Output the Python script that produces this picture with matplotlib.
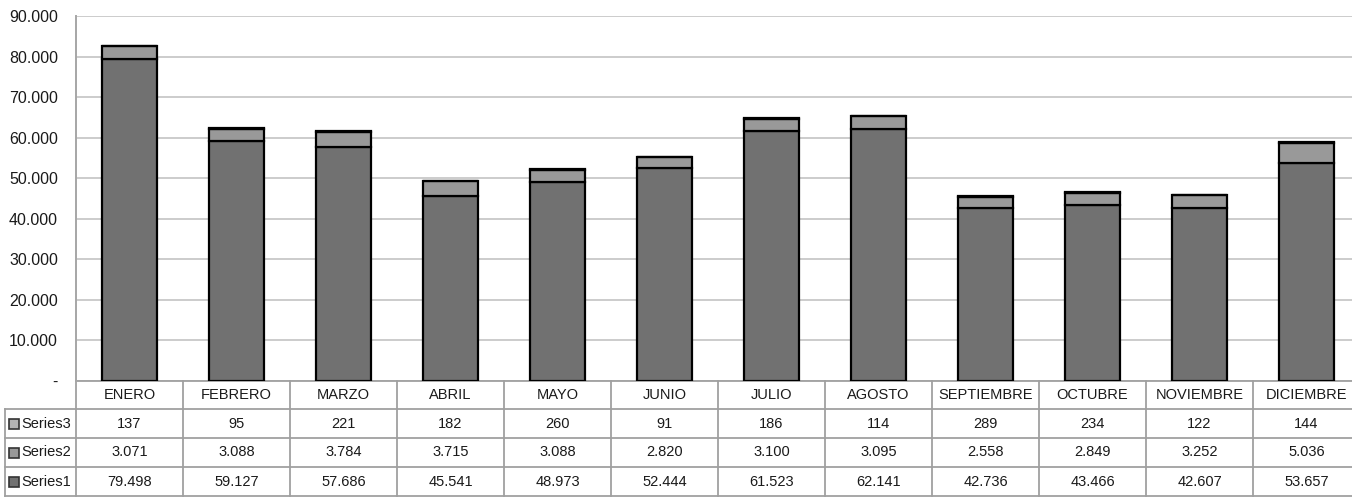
import matplotlib
matplotlib.use("Agg")
import matplotlib.pyplot as plt
from matplotlib.patches import Rectangle
from matplotlib.ticker import FuncFormatter
import matplotlib.transforms as mtransforms

plt.rcParams['font.family'] = ['Liberation Sans', 'DejaVu Sans']

months = ["ENERO", "FEBRERO", "MARZO", "ABRIL", "MAYO", "JUNIO", "JULIO",
          "AGOSTO", "SEPTIEMBRE", "OCTUBRE", "NOVIEMBRE", "DICIEMBRE"]
series1 = [79498, 59127, 57686, 45541, 48973, 52444, 61523, 62141, 42736, 43466, 42607, 53657]
series2 = [3071, 3088, 3784, 3715, 3088, 2820, 3100, 3095, 2558, 2849, 3252, 5036]
series3 = [137, 95, 221, 182, 260, 91, 186, 114, 289, 234, 122, 144]
series_names = ["Series3", "Series2", "Series1"]
colors = {"Series1": "#717171", "Series2": "#999999", "Series3": "#b3b3b3"}


def fmt(v):
    return f"{int(v):,}".replace(",", ".")


fig = plt.figure(figsize=(13.52, 5.0), dpi=100)
ax = fig.add_axes([76 / 1352, 1 - 381 / 500, 1284 / 1352, 365 / 500])

x = list(range(len(months)))
bottom2 = series1
bottom3 = [a + b for a, b in zip(series1, series2)]
ax.bar(x, series1, width=0.52, color=colors["Series1"], edgecolor="black", linewidth=1.6, zorder=3)
ax.bar(x, series2, width=0.52, bottom=bottom2, color=colors["Series2"], edgecolor="black", linewidth=1.6, zorder=3)
ax.bar(x, series3, width=0.52, bottom=bottom3, color=colors["Series3"], edgecolor="black", linewidth=1.6, zorder=3)

ax.set_xlim(-0.5, len(months) - 0.5)
ax.set_ylim(0, 90000)
ax.set_yticks(range(0, 90001, 10000))
ax.yaxis.set_major_formatter(FuncFormatter(lambda v, p: "-" if v == 0 else fmt(v)))
ax.tick_params(axis="y", length=0, labelsize=11.5, pad=13, colors="#1a1a1a")
ax.set_xticks([])
ax.grid(axis="y", color="#cccccc", linewidth=1.4, zorder=0)
for s in ["top", "right", "bottom"]:
    ax.spines[s].set_visible(False)
ax.spines["left"].set_color("#a6a6a6")
ax.spines["left"].set_linewidth(1.4)

# data table under the bars
trans = mtransforms.blended_transform_factory(ax.transData, ax.transAxes)
px = 1 / 365
row_edges = [0, -28 * px, -57 * px, -86 * px, -115 * px]
lab_left = -0.5 - 71 / 107
line_kw = dict(color="#a0a0a0", linewidth=1.3, transform=trans, clip_on=False)

# horizontal lines
ax.plot([-0.5, len(months) - 0.5], [row_edges[0]] * 2, **line_kw)
for yy in row_edges[1:]:
    ax.plot([lab_left, len(months) - 0.5], [yy] * 2, **line_kw)
# vertical lines
for i in range(len(months) + 1):
    ax.plot([i - 0.5] * 2, [row_edges[0], row_edges[-1]], **line_kw)
ax.plot([lab_left] * 2, [row_edges[1], row_edges[-1]], **line_kw)

for i, m in enumerate(months):
    ax.text(i, (row_edges[0] + row_edges[1]) / 2, m, transform=trans, ha="center", va="center",
            fontsize=10.5, color="#1a1a1a", clip_on=False)

rows = {"Series3": series3, "Series2": series2, "Series1": series1}
key_w = 10 / 107
key_h = 10 * px
for r, name in enumerate(series_names):
    yc = (row_edges[r + 1] + row_edges[r + 2]) / 2
    ax.add_patch(Rectangle((lab_left + 4 / 107, yc - key_h / 2), key_w, key_h, transform=trans,
                           facecolor=colors[name], edgecolor="#333333", linewidth=1.2, clip_on=False))
    ax.text(lab_left + 16 / 107, yc, name, transform=trans, ha="left", va="center",
            fontsize=10.5, color="#1a1a1a", clip_on=False)
    for i, v in enumerate(rows[name]):
        ax.text(i, yc, fmt(v), transform=trans, ha="center", va="center",
                fontsize=10.5, color="#1a1a1a", clip_on=False)

fig.savefig("out.png", dpi=100)
